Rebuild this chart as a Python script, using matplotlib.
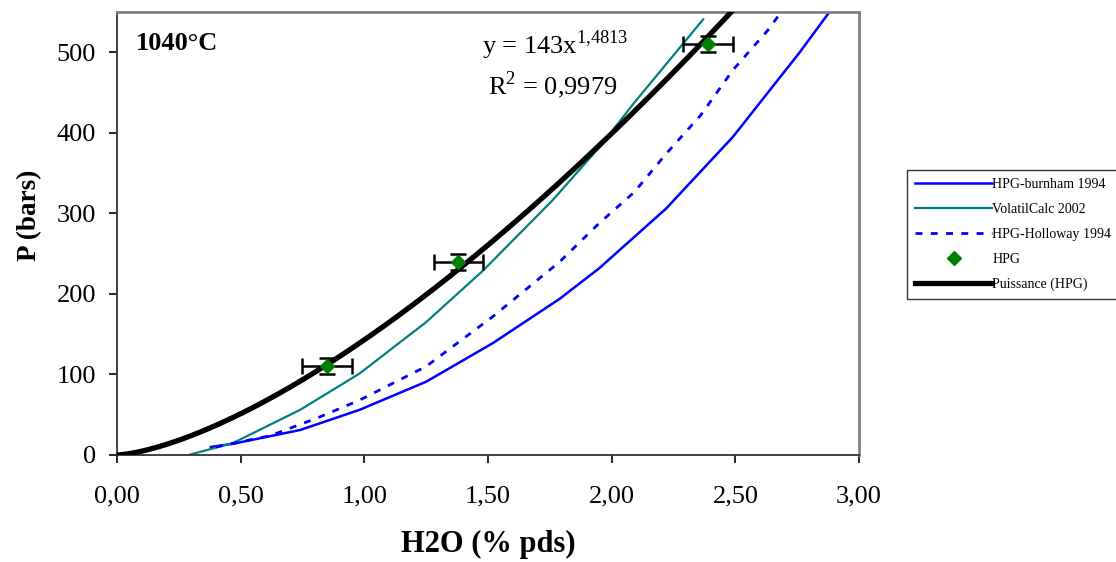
import numpy as np
import matplotlib
matplotlib.use("Agg")
import matplotlib.pyplot as plt

# HPG measurements (wt% H2O, bars) with error bars
hpg_x = [0.85, 1.38, 2.39]
hpg_y = [110, 240, 510]
hpg_xerr = [0.10, 0.10, 0.10]
hpg_yerr = [10, 10, 10]

# model curves
burnham_x = [0.38, 0.47, 0.74, 0.98, 1.25, 1.52, 1.79, 1.95, 2.22, 2.49, 2.76, 2.88]
burnham_y = [10, 14, 31, 56, 91, 139, 194, 232, 306, 395, 500, 550]

volatil_x = [0.29, 0.47, 0.74, 0.98, 1.25, 1.48, 1.76, 1.95, 2.09, 2.37]
volatil_y = [0, 15, 56, 101, 165, 229, 316, 382, 437, 541]

holloway_x = [0.40, 0.62, 0.81, 0.98, 1.25, 1.52, 1.79, 1.95, 2.09, 2.22, 2.36, 2.49, 2.63, 2.69]
holloway_y = [10, 24, 46, 68, 110, 172, 240, 288, 326, 374, 422, 478, 527, 552]

xticks = [0.0, 0.5, 1.0, 1.5, 2.0, 2.5, 3.0]
yticks = [0, 100, 200, 300, 400, 500]

plt.rcParams['font.family'] = ['Liberation Serif', 'DejaVu Serif']

# power trendline fitted on the HPG points (log-log)
b, ln_a = np.polyfit(np.log(hpg_x), np.log(hpg_y), 1)
a = np.exp(ln_a)
fit_x = np.linspace(0, 2.6, 300)
fit_y = a * fit_x ** b

fig = plt.figure(figsize=(11.16, 5.62), dpi=100)
ax = fig.add_axes([0.1048, 0.1904, 0.665, 0.7882])

ax.plot(burnham_x, burnham_y, color='#0000FF', lw=1.8, label='HPG-burnham 1994')
ax.plot(volatil_x, volatil_y, color='#008080', lw=1.6, label='VolatilCalc 2002')
ax.plot(holloway_x, holloway_y, color='#0000FF', lw=2.0, ls=(0, (2.5, 3)), label='HPG-Holloway 1994')
ax.errorbar(hpg_x, hpg_y, xerr=hpg_xerr, yerr=hpg_yerr, fmt='none', ecolor='black',
            elinewidth=1.8, capsize=5.5, capthick=1.8, zorder=4)
ax.plot(hpg_x, hpg_y, 'D', color='#008000', ms=7, ls='none', label='HPG', zorder=5)
ax.plot(fit_x, fit_y, color='black', lw=3.8, label='Puissance (HPG)', zorder=3)

ax.set_xlim(0, 3.0)
ax.set_ylim(0, 550)
ax.set_xticks(xticks)
ax.set_xticklabels(['{:.2f}'.format(v).replace('.', ',') for v in xticks])
ax.set_yticks(yticks)
ax.tick_params(labelsize=19, direction='out', length=6, width=1.2)
ax.tick_params(axis='x', pad=16)
ax.tick_params(axis='y', pad=9)

for side in ['top', 'right']:
    ax.spines[side].set_color('#808080')
    ax.spines[side].set_linewidth(2)
for side in ['left', 'bottom']:
    ax.spines[side].set_color('#333333')
    ax.spines[side].set_linewidth(1.3)

ax.set_xlabel('H2O (% pds)', fontsize=22, fontweight='bold')
ax.xaxis.set_label_coords(0.5, -0.203)
ax.xaxis.label.set_va('center')
ax.set_ylabel('P (bars)', fontsize=19.5, fontweight='bold')
ax.yaxis.set_label_coords(-0.118, 0.54)
ax.yaxis.label.set_va('center')

ax.text(0.0256, 0.93, '1040°C', transform=ax.transAxes, fontsize=19, fontweight='bold', va='center')
ax.text(0.59, 0.925, r'y = 143x$^{\mathregular{1{,}4813}}$', transform=ax.transAxes,
        fontsize=19, ha='center', va='center')
ax.text(0.587, 0.835, r'R$^{\mathregular{2}}$ = 0,9979', transform=ax.transAxes,
        fontsize=19, ha='center', va='center')

leg = ax.legend(loc='upper left', bbox_to_anchor=(0.8127, 0.6975), bbox_transform=fig.transFigure,
                borderaxespad=0, fontsize=10, frameon=True, fancybox=False, edgecolor='black',
                handlelength=5.5, borderpad=0.6, labelspacing=0.85, handletextpad=0.05)
leg.get_frame().set_linewidth(1.0)

fig.savefig('out.png', dpi=100)
